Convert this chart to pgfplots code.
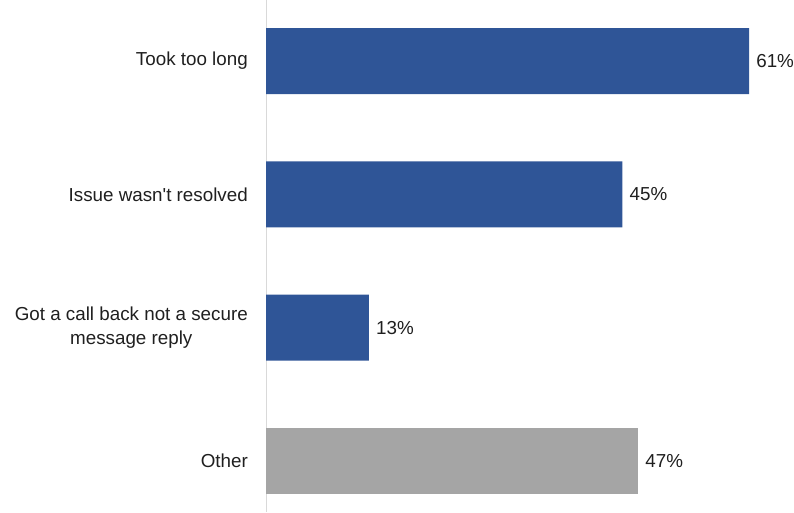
\documentclass[border=0pt]{standalone}
\usepackage{pgfplots}
\pgfplotsset{compat=1.18}
\usepackage{fontspec}
\setmainfont{Liberation Sans}
\definecolor{barblue}{HTML}{2F5597}
\definecolor{bargray}{HTML}{A5A5A5}
\definecolor{axgray}{HTML}{D9D9D9}
\definecolor{txt}{HTML}{1F1F1F}
\begin{document}
\begin{tikzpicture}[x=1pt,y=1pt]
\useasboundingbox (0,0) rectangle (794,512);
\begin{axis}[
  at={(266pt,0pt)}, anchor=south west,
  scale only axis,
  width=514.8pt, height=512pt,
  xmin=0, xmax=65,
  ymin=-0.4576, ymax=3.383,
  y dir=reverse,
  xbar, bar width=66pt, bar shift=0pt,
  axis x line=none,
  axis y line*=left,
  y axis line style={draw=axgray, line width=0.8pt, -},
  ytick={0,1,2,3},
  yticklabels={Took too long, Issue wasn\textquotesingle t resolved, {Got a call back not a secure\\message reply}, Other},
  major tick length=0pt,
  yticklabel style={align=center, inner sep=0pt, xshift=-18pt, text=txt,
    font=\fontsize{18.8}{24}\selectfont},
  /pgf/number format/assume math mode=true,
  nodes near coords={\pgfmathprintnumber{\pgfplotspointmeta}\%},
  nodes near coords style={anchor=west, inner sep=0pt, xshift=7pt, text=txt,
    font=\fontsize{18.8}{24}\selectfont},
  point meta=x,
  clip=false,
]
\addplot[fill=barblue, draw=none] coordinates {(61,0) (45,1) (13,2)};
\addplot[fill=bargray, draw=none] coordinates {(47,3)};
\end{axis}
\end{tikzpicture}
\end{document}
